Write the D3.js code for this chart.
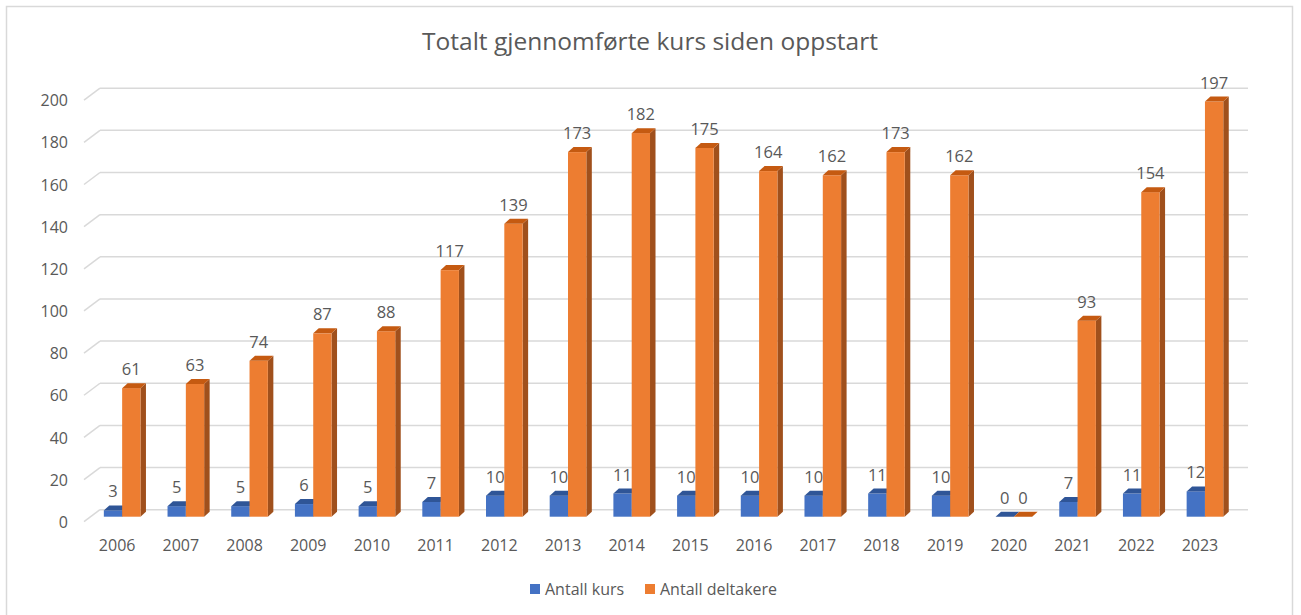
<!DOCTYPE html>
<html>
<head>
<meta charset="utf-8">
<script src="https://cdn.jsdelivr.net/npm/d3@7"></script>
<style>
  body { margin: 0; background: #fff; }
  text { font-family: "Open Sans", "Liberation Sans", sans-serif; fill: #595959; }
</style>
</head>
<body>
<div id="viz"></div>
<script>
const years = ["2006","2007","2008","2009","2010","2011","2012","2013","2014","2015","2016","2017","2018","2019","2020","2021","2022","2023"];
const antallKurs = [3,5,5,6,5,7,10,10,11,10,10,10,11,10,0,7,11,12];
const antallDeltakere = [61,63,74,87,88,117,139,173,182,175,164,162,173,162,0,93,154,197];
const seriesNames = ["Antall kurs", "Antall deltakere"];
const yTicks = [0,20,40,60,80,100,120,140,160,180,200];

const width = 1301, height = 615;

// colours: front, top, side
const colors = [
  {front: "#4472c4", top: "#2f5597", side: "#2b4e8c"},
  {front: "#ed7d31", top: "#c55a11", side: "#a0501c"}
];

const svg = d3.select("#viz").append("svg")
    .attr("width", width)
    .attr("height", height);

// outer frame
svg.append("rect")
    .attr("x", 6.5).attr("y", 6.5)
    .attr("width", 1286).attr("height", 640)
    .attr("fill", "none")
    .attr("stroke", "#d9d9d9")
    .attr("stroke-width", 1.5);

svg.append("text")
    .attr("x", 650).attr("y", 50)
    .attr("text-anchor", "middle")
    .style("font-size", "24.5px")
    .text("Totalt gjennomførte kurs siden oppstart");

// back wall scale and bar (front plane) scale
const yWall = d3.scaleLinear().domain([0, 200]).range([509.7, 88.2]);
const yBar = d3.scaleLinear().domain([0, 200]).range([516.7, 95.2]);
const depth = {dx: 16, dy: 12};     // floor depth (back -> front offset)
const bd = {dx: 5.5, dy: 5};        // bar depth

const x = d3.scaleBand().domain(years).range([90.3, 1236.8]).paddingInner(0.425).paddingOuter(0.2125);
const xs = d3.scaleBand().domain([0, 1]).range([0, x.bandwidth()]);

// gridlines
const grid = svg.append("g");
grid.selectAll("line.h").data(yTicks).enter().append("line")
    .attr("x1", 100).attr("x2", 1248)
    .attr("y1", d => yWall(d)).attr("y2", d => yWall(d))
    .attr("stroke", "#d9d9d9").attr("stroke-width", 1.5);
grid.selectAll("line.d").data(yTicks).enter().append("line")
    .attr("x1", 100 - depth.dx).attr("x2", 100)
    .attr("y1", d => yWall(d) + depth.dy).attr("y2", d => yWall(d))
    .attr("stroke", "#d9d9d9").attr("stroke-width", 1.5);

svg.append("g").selectAll("text").data(yTicks).enter().append("text")
    .attr("x", 68)
    .attr("y", d => yWall(d) + 12.5)
    .attr("dy", "0.35em")
    .attr("text-anchor", "end")
    .style("font-size", "16px")
    .text(d => d);

// bars
const rows = years.map((yr, i) => ({year: yr, values: [antallKurs[i], antallDeltakere[i]]}));

const groups = svg.append("g").selectAll("g").data(rows).enter().append("g")
    .attr("transform", d => `translate(${x(d.year)},0)`);

groups.each(function (d) {
    const g = d3.select(this);
    d.values.forEach(function (v, s) {
        const x0 = xs(s), w = xs.bandwidth();
        const yt = yBar(v), y0 = yBar(0);
        const c = colors[s];
        g.append("path")
            .attr("d", `M${x0 + w},${yt} L${x0 + w + bd.dx},${yt - bd.dy} L${x0 + w + bd.dx},${y0 - bd.dy} L${x0 + w},${y0}Z`)
            .attr("fill", c.side);
        g.append("rect")
            .attr("x", x0).attr("y", yt)
            .attr("width", w).attr("height", y0 - yt)
            .attr("fill", c.front);
        g.append("path")
            .attr("d", `M${x0},${yt} L${x0 + bd.dx},${yt - bd.dy} L${x0 + w + bd.dx},${yt - bd.dy} L${x0 + w},${yt}Z`)
            .attr("fill", c.top);
        g.append("text")
            .attr("x", x0 + w / 2)
            .attr("y", yt - 13)
            .attr("text-anchor", "middle")
            .style("font-size", "16.5px")
            .text(v);
    });
});

// category labels
svg.append("g").selectAll("text").data(years).enter().append("text")
    .attr("x", d => x(d) + x.bandwidth() / 2 - 5)
    .attr("y", 551)
    .attr("text-anchor", "middle")
    .style("font-size", "16px")
    .text(d => d);

// legend
const legendX = [530, 645];
const legend = svg.append("g").selectAll("g").data(seriesNames).enter().append("g")
    .attr("transform", (d, i) => `translate(${legendX[i]},584)`);
legend.append("rect")
    .attr("width", 10).attr("height", 10)
    .attr("fill", (d, i) => colors[i].front);
legend.append("text")
    .attr("x", 15).attr("y", 5)
    .attr("dy", "0.35em")
    .style("font-size", "16px")
    .text(d => d);
</script>
</body>
</html>
